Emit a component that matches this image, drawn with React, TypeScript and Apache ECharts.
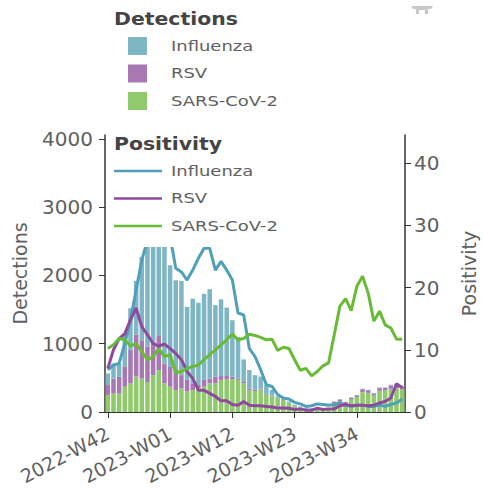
import React, { useEffect, useRef } from "react";
import * as echarts from "echarts";

const weeks22 = ["42","43","44","45","46","47","48","49","50","51","52"].map((w) => "2022-W" + w);
const weeks23 = ["01","02","03","04","05","06","07","08","09","10","11","12","13","14","15","16","17","18","19","20","21","22","23","24","25","26","27","28","29","30","31","32","33","34","35","36","37","38","39","40","41","42"].map((w) => "2023-W" + w);
const categories = [...weeks22, ...weeks23];

const detSars = [250,270,270,370,420,520,490,440,540,615,420,370,320,345,300,320,345,370,420,420,470,480,480,470,420,320,307,330,255,230,205,180,130,80,60,45,40,35,35,30,130,150,130,190,220,290,280,240,310,320,340,350,330];
const detRsv = [145,220,245,290,490,615,560,515,490,510,290,290,295,195,170,100,50,100,70,95,57,47,37,20,20,20,23,15,10,10,8,8,5,5,5,5,5,5,5,5,20,30,15,20,25,45,40,30,40,35,50,55,45];
const detFlu = [170,220,195,490,610,785,1220,1745,1970,1675,1790,1490,1315,1380,1070,1240,1205,1260,1310,1050,1123,1003,828,610,330,275,210,175,135,85,17,17,20,20,15,10,10,10,10,10,5,10,5,5,5,5,5,10,10,5,10,10,10];

const posFlu = [6.75,7.55,7.8,11,14.8,19.6,24.4,27.6,32,35,32,28.2,23.1,22.5,21.2,22.8,24.7,26.3,26.3,22.8,24.2,22.8,21.2,15.9,15.6,10.2,8.9,6.8,4.4,4.1,2.8,2.25,2.1,1.55,1.3,0.9,1,1.3,1.2,1.07,1.2,1.45,1.07,0.9,1.07,1.1,0.9,0.9,1.1,0.9,1.2,1.45,2.1];
const posRsv = [7,10,11.8,12.6,14.8,16.7,13.7,12.4,11,10.6,10.9,10.2,9.4,8.4,6.5,5.4,3.5,3.5,3,2.5,1.8,1.8,1.2,1.1,1.7,1.1,1,1,0.9,0.8,0.65,0.65,0.6,0.4,0.5,0.3,0.3,0.6,0.4,0.5,0.5,1,1.2,1,1.07,1.1,1,1.1,1.45,1.7,2.25,4.55,3.9];
const posSars = [10.2,10.8,11.8,11.6,10.6,11,9.7,8.4,8.9,10.2,8.9,9.2,6.3,6.5,7,7.3,7.55,8.4,9.2,10,10.8,11.6,12.5,11.6,11.8,12.5,12.3,12,11.6,11.7,9.9,10.4,10.2,8.4,6.7,7,5.8,6.5,7.4,7.9,12.4,17,18.2,16.3,20.2,21.8,19.1,14.6,16.2,14,13.5,11.7,11.7];

const leftTicks = [0, 1000, 2000, 3000, 4000];
const rightTicks = [0, 10, 20, 30, 40];
const names = ["Influenza", "RSV", "SARS-CoV-2"];
const barColors = ["#7fb6c5", "#a878b2", "#90ca6c"];
const lineColors = ["#4fa0b8", "#8f4a9f", "#69bb35"];

const FONT = "'DejaVu Sans', Verdana, sans-serif";
const GREY = "#606060";

function legendText(text: string, x: number, y: number, bold = false) {
  return {
    type: "text",
    z: 101,
    x,
    y,
    scaleX: bold ? 1.2 : 1.33,
    style: {
      text,
      fill: bold ? "#444444" : GREY,
      font: `${bold ? "bold " : ""}${bold ? 17 : 13.5}px ${FONT}`,
      verticalAlign: "middle",
      align: "left",
    },
  };
}

export default function App() {
  const ref = useRef<HTMLDivElement>(null);
  useEffect(() => {
    document.body.style.margin = "0";
    const chart = echarts.init(ref.current!, undefined, { renderer: "svg" });
    const barSeries = (name: string, data: number[], color: string) => ({
      name,
      type: "bar",
      stack: "det",
      data,
      barCategoryGap: "20%",
      itemStyle: { color },
    });
    const lineSeries = (name: string, data: number[], color: string) => ({
      name,
      type: "line",
      yAxisIndex: 1,
      data,
      showSymbol: false,
      lineStyle: { color, width: 3 },
      itemStyle: { color },
    });
    const axisCommon = {
      axisLine: { show: true, lineStyle: { color: "#333333", width: 1.5 } },
      axisTick: { show: true, length: 6, lineStyle: { color: "#333333" } },
      splitLine: { show: false },
    };
    chart.setOption({
      animation: false,
      grid: { left: 105, right: 78, top: 135, bottom: 77, outerBoundsMode: "none" },
      xAxis: {
        type: "category",
        data: categories,
        axisLine: { show: true, lineStyle: { color: "#333333", width: 1 } },
        axisTick: { show: true, interval: 10, alignWithLabel: true, length: 6, lineStyle: { color: "#333333" } },
        axisLabel: { interval: 10, rotate: 28, fontSize: 19, color: GREY, fontFamily: FONT, margin: 20 },
      },
      yAxis: [
        {
          type: "value",
          min: 0,
          max: 4058,
          name: "Detections",
          nameLocation: "middle",
          nameGap: 76,
          nameTextStyle: { fontSize: 19, color: GREY, fontFamily: FONT },
          ...axisCommon,
          axisTick: { ...axisCommon.axisTick, customValues: leftTicks },
          axisLabel: { customValues: leftTicks, formatter: (v: number) => String(v), fontSize: 20, color: GREY, fontFamily: FONT, margin: 12 },
        },
        {
          type: "value",
          position: "right",
          min: 0,
          max: 44.5,
          name: "Positivity",
          nameLocation: "middle",
          nameGap: 54,
          nameTextStyle: { fontSize: 19, color: GREY, fontFamily: FONT },
          ...axisCommon,
          axisTick: { ...axisCommon.axisTick, customValues: rightTicks },
          axisLabel: { customValues: rightTicks, fontSize: 20, color: GREY, fontFamily: FONT, margin: 9 },
        },
      ],
      series: [
        barSeries(names[2], detSars, barColors[2]),
        barSeries(names[1], detRsv, barColors[1]),
        barSeries(names[0], detFlu, barColors[0]),
        lineSeries(names[0], posFlu, lineColors[0]),
        lineSeries(names[1], posRsv, lineColors[1]),
        lineSeries(names[2], posSars, lineColors[2]),
      ],
      graphic: [
        { type: "rect", z: 100, shape: { x: 107, y: 130, width: 190, height: 117 }, style: { fill: "#ffffff" } },
        legendText("Detections", 114, 19, true),
        ...names.map((n, i) => legendText(n, 171, 46 + i * 27.5)),
        ...names.map((n, i) => ({
          type: "rect",
          z: 101,
          shape: { x: 128, y: 37 + i * 27.5, width: 19, height: 18 },
          style: { fill: barColors[i] },
        })),
        legendText("Positivity", 114, 144, true),
        ...names.map((n, i) => legendText(n, 171, 171 + i * 27.5)),
        ...names.map((n, i) => ({
          type: "line",
          z: 101,
          shape: { x1: 114, y1: 171 + i * 27.5, x2: 162, y2: 171 + i * 27.5 },
          style: { stroke: lineColors[i], lineWidth: 2.5 },
        })),
        {
          type: "polygon",
          z: 101,
          shape: { points: [[411, 6], [433, 6], [431, 9], [428, 9], [428, 14], [425, 14], [425, 10], [419, 10], [419, 14], [416, 14], [416, 9], [413, 9]] },
          style: { fill: "#c8c8c8" },
        },
      ],
    });
    return () => chart.dispose();
  }, []);
  return <div ref={ref} style={{ width: 483, height: 489 }} />;
}
